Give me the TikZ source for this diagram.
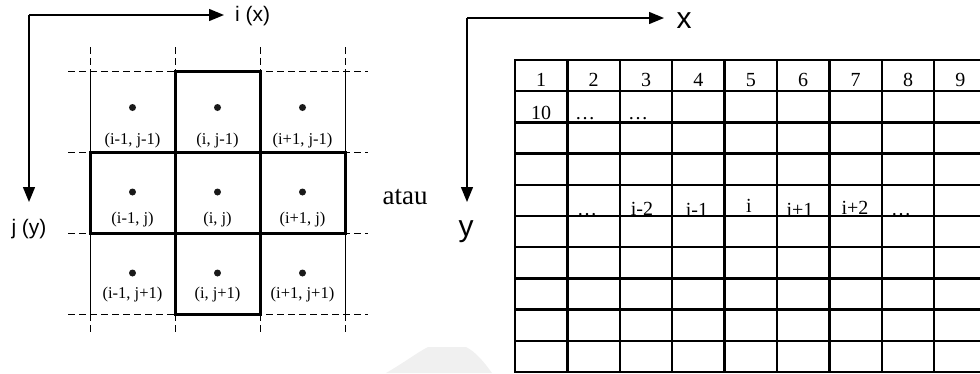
\documentclass[tikz,border=0pt]{standalone}
\usepackage{fontspec}
\setmainfont{Liberation Serif}
\newfontfamily\arialf{Liberation Sans}
\usetikzlibrary{arrows.meta}
\begin{document}
\begin{tikzpicture}[x=1pt,y=-1pt,
  axis/.style={line width=1.4pt,-{Triangle[length=15pt,width=12pt]}},
  thinsolid/.style={line width=0.8pt},
  thindash/.style={line width=0.8pt,dash pattern=on 7pt off 4pt},
  thickbox/.style={line width=3pt,line join=miter},
  tline/.style={line width=2.3pt},
  dotn/.style={circle,fill=black!90,inner sep=0pt,minimum size=7pt},
  clab/.style={font=\fontsize{16.5}{16.5}\selectfont,inner sep=0pt},
  tnum/.style={font=\fontsize{20}{20}\selectfont,inner sep=0pt,anchor=base},
  sanslab/.style={font=\arialf\fontsize{21}{21}\selectfont,inner sep=0pt},
  biglab/.style={font=\arialf\fontsize{30}{30}\selectfont,inner sep=0pt}]
\useasboundingbox (0,0) rectangle (980,373);
% faint watermark
\fill[black!6] (386,373) .. controls (405,362) and (418,352) .. (428,347) -- (466,347) .. controls (476,352) and (484,362) .. (492,373) -- cycle;

% ---------- left axes ----------
\coordinate (oL) at (29,15);
\coordinate (iL) at (224,15);
\coordinate (jL) at (29,202);
\draw[axis] (oL) -- (iL);
\draw[axis] (oL) -- (jL);
\node[sanslab,anchor=west] (ilab) at (235,16) {i (x)};
\node[sanslab] (jlab) at (29,229) {j (y)};

% ---------- left grid ----------
\foreach \x in {90,175,260,345}{
  \draw[thindash] (\x,47) -- (\x,71);
  \draw[thinsolid] (\x,71) -- (\x,314);
  \draw[thindash] (\x,314) -- (\x,333);
}
\foreach \y in {71,152,233,314}{
  \draw[thindash] (68,\y) -- (368,\y);
}
\draw[thickbox] (175,71) -- (260,71) -- (260,152) -- (345,152) -- (345,233) -- (260,233)
  -- (260,314) -- (175,314) -- (175,233) -- (90,233) -- (90,152) -- (175,152) -- cycle;
\draw[thickbox] (175,152) -- (260,152) (175,233) -- (260,233)
  (175,152) -- (175,233) (260,152) -- (260,233);

\foreach \cx/\n in {132.5/a,217.5/b,302.5/c}{
  \node[dotn] (d1\n) at (\cx,107.5) {};
  \node[dotn] (d2\n) at (\cx,192) {};
  \node[dotn] (d3\n) at (\cx,273) {};
}
\node[clab] (l11) at (132.5,141) {(i-1, j-1)};
\node[clab] (l12) at (217.5,141) {(i, j-1)};
\node[clab] (l13) at (302.5,141) {(i+1, j-1)};
\node[clab] (l21) at (132.5,220) {(i-1, j)};
\node[clab] (l22) at (217.5,220) {(i, j)};
\node[clab] (l23) at (302.5,220) {(i+1, j)};
\node[clab] (l31) at (132.5,295) {(i-1, j+1)};
\node[clab] (l32) at (217.5,295) {(i, j+1)};
\node[clab] (l33) at (302.5,295) {(i+1, j+1)};

\node[font=\fontsize{27}{27}\selectfont,inner sep=0pt] (atau) at (405,197) {atau};

% ---------- right axes ----------
\coordinate (oR) at (467,18);
\coordinate (xR) at (664,18);
\coordinate (yR) at (467,202);
\draw[axis] (oR) -- (xR);
\draw[axis] (oR) -- (yR);
\node[biglab] (xlab) at (684,21) {x};
\node[biglab] (ylab) at (466,232) {y};

% ---------- table ----------
\foreach \r in {0,...,10}{
  \draw[tline] (514,{60+31.2*\r}) -- (982,{60+31.2*\r});
}
\foreach \k in {0,...,8}{
  \draw[tline] ({515+52.4*\k},59) -- ({515+52.4*\k},373);
}
\foreach \k in {1,...,9}{
  \node[tnum] (n\k) at ({541.2+52.4*(\k-1)},86) {\k};
}
\node[tnum] (n10) at (541.2,119) {10};
\node[tnum] (e1) at (585,119) {\ldots};
\node[tnum] (e2) at (638,119) {\ldots};
\node[tnum] (e3) at (587,215) {\ldots};
\node[tnum] (m2) at (642,215) {i-2};
\node[tnum] (m1) at (697,216) {i-1};
\node[tnum] (m0) at (749,212) {i};
\node[tnum] (p1) at (800,216) {i+1};
\node[tnum] (p2) at (855,214) {i+2};
\node[tnum] (e4) at (901,215) {\ldots};
\end{tikzpicture}
\end{document}
